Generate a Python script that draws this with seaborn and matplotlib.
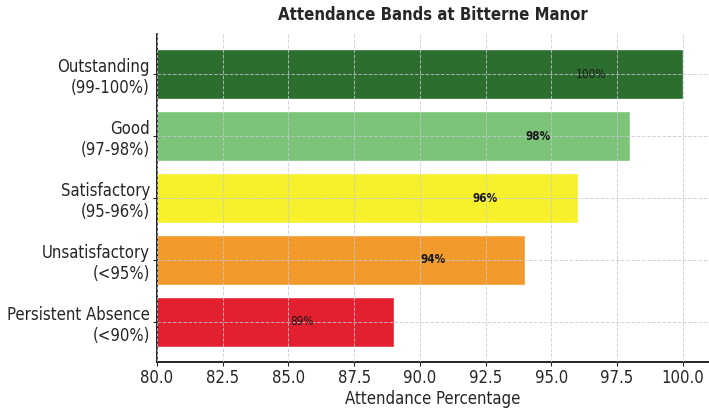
import pandas as pd
import numpy as np
import seaborn as sns
import matplotlib.pyplot as plt

# attendance bands and their percentages
bands = ['Outstanding\n(99-100%)', 'Good\n(97-98%)', 'Satisfactory\n(95-96%)',
         'Unsatisfactory\n(<95%)', 'Persistent Absence\n(<90%)']
attendance = [100, 98, 96, 94, 89]
value_labels = ['100%', '98%', '96%', '94%', '89%']
label_bold = [False, True, True, True, False]
bar_colors = ['#2b6e2e', '#7cc477', '#f7f02c', '#f39a2c', '#e2202f']

df = pd.DataFrame({'band': bands, 'attendance': attendance})

sns.set_style('white')
plt.rcParams['font.family'] = ['DejaVu Sans']
plt.rcParams['font.stretch'] = 'condensed'

fig = plt.figure(figsize=(7.09, 4.08), dpi=100)
ax = fig.add_axes([0.2214, 0.1127, 0.7786, 0.804])

sns.barplot(data=df, x='attendance', y='band', hue='band', palette=bar_colors,
            orient='h', width=0.8, saturation=1, legend=False, ax=ax, zorder=1)

for i, (v, lab, b) in enumerate(zip(attendance, value_labels, label_bold)):
    ax.text(v - 3.5, i, lab, ha='center', va='center', fontsize=8.5,
            fontweight='bold' if b else 'normal', color='#1a1a1a', zorder=4)

ax.set_xlim(80, 101)
ax.set_ylim(4.65, -0.65)
ax.set_xticks(np.arange(80, 100.1, 2.5))
ax.set_xticklabels([f'{t:.1f}' for t in np.arange(80, 100.1, 2.5)])
ax.grid(True, linestyle='--', linewidth=0.7, color='#c8c8d8', alpha=0.8, zorder=3)
ax.set_axisbelow(False)

ax.tick_params(axis='both', labelsize=12, length=3, pad=2, left=True, bottom=True)
ax.set_title('Attendance Bands at Bitterne Manor', fontsize=12, fontweight='bold', pad=10)
ax.set_xlabel('Attendance Percentage', fontsize=12, labelpad=2)
ax.set_ylabel('')

for s in ['top', 'right']:
    ax.spines[s].set_visible(False)
for s in ['left', 'bottom']:
    ax.spines[s].set_color('black')
    ax.spines[s].set_linewidth(1.2)

fig.savefig('out.png', dpi=100)
